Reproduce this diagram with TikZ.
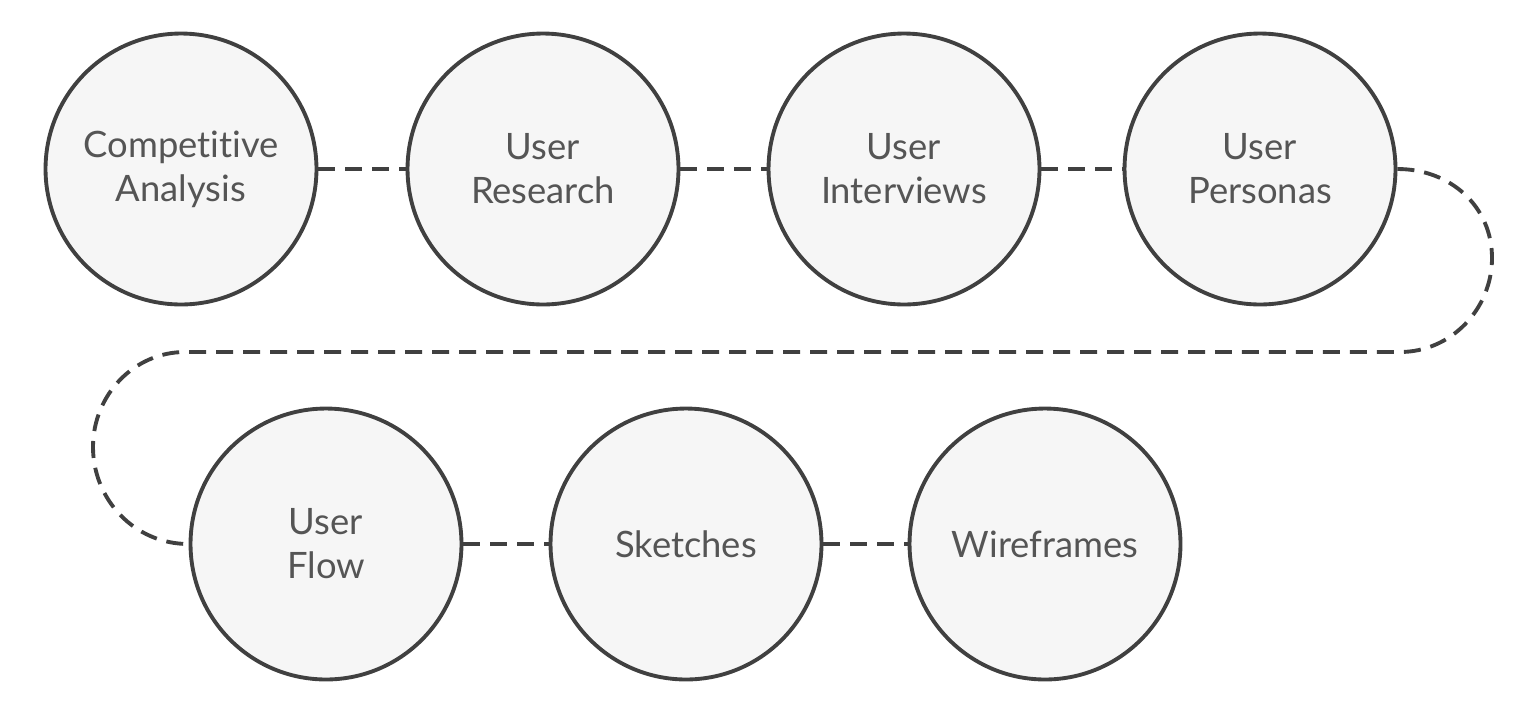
\documentclass[tikz,border=0pt]{standalone}
\usepackage{fontspec}
\setmainfont{Lato}[Ligatures={NoCommon,NoRare}]
\usepackage{tikz}

\definecolor{edge}{HTML}{404040}
\definecolor{bubble}{HTML}{F6F6F6}
\definecolor{label}{HTML}{555555}

\begin{document}
\begin{tikzpicture}[x=0.02cm,y=-0.02cm,
    stage/.style={circle,draw=edge,fill=bubble,line width=2.2pt,minimum size=5.42cm,inner sep=0pt,
        align=center,text=label,font=\fontsize{20.7}{25}\selectfont},
    link/.style={draw=edge,line width=2.2pt,dash pattern=on 0.34cm off 0.2cm}]
    \useasboundingbox (0,0) rectangle (1523,711);
    % top row
    \node[stage] (comp) at (181,169) {Competitive\\Analysis};
    \node[stage] (res) at (543,169) {User\\Research};
    \node[stage] (intv) at (904,169) {User\\Interviews};
    \node[stage] (pers) at (1260,169) {User\\Personas};
    % bottom row
    \node[stage] (flow) at (326,544) {User\\Flow};
    \node[stage] (sketch) at (686,544) {Sketches};
    \node[stage] (wire) at (1045,544) {Wireframes};
    \coordinate (turnR) at (1492,258);
    \coordinate (turnL) at (93,447);
    \draw[link] (comp) -- (res);
    \draw[link] (res) -- (intv);
    \draw[link] (intv) -- (pers);
    \draw[link] (pers.east) .. controls (1451,169) and (1492,207) .. (turnR)
        .. controls (1492,309) and (1451,352) .. (1400,352) -- (185,352)
        .. controls (134,352) and (93,395) .. (turnL)
        .. controls (93,499) and (134,544) .. (flow.west);
    \draw[link] (flow) -- (sketch);
    \draw[link] (sketch) -- (wire);
\end{tikzpicture}
\end{document}
